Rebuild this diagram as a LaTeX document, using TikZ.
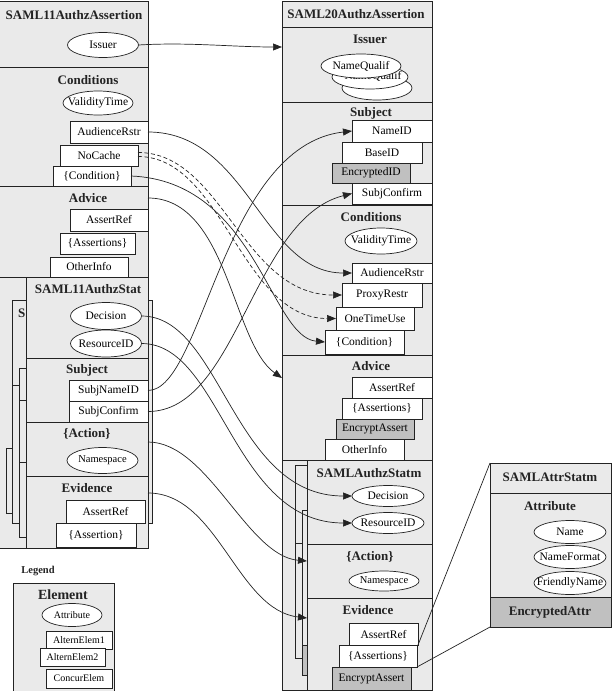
\documentclass[tikz,border=0pt]{standalone}
\usepackage{fontspec}
\setmainfont{Liberation Serif}
\usetikzlibrary{arrows.meta,shapes.geometric,calc}
\definecolor{secgray}{RGB}{234,234,234}
\definecolor{encgray}{RGB}{192,192,192}
\definecolor{ink}{RGB}{35,35,35}
\begin{document}
\begin{tikzpicture}[x=1pt,y=-1pt,
  sect/.style={draw=ink, line width=0.8pt, fill=secgray, anchor=north west, inner sep=0pt, outer sep=0pt},
  encsect/.style={sect, fill=encgray},
  elbox/.style={draw=ink, line width=0.7pt, fill=white, anchor=north west, inner sep=0pt, outer sep=0pt, font=\fontsize{11.5}{12}\selectfont},
  encbox/.style={elbox, fill=encgray},
  legbox/.style={elbox, font=\fontsize{10}{11}\selectfont},
  attr/.style={ellipse, draw=ink, line width=0.7pt, fill=white, inner sep=0pt, outer sep=0pt},
  attrtxt/.style={font=\fontsize{11.5}{12}\selectfont, inner sep=0pt},
  smalltxt/.style={font=\fontsize{10.5}{11}\selectfont, inner sep=0pt},
  ttl/.style={font=\fontsize{13}{14}\selectfont\bfseries, inner sep=0pt, text=ink},
  conn/.style={draw=ink, line width=0.7pt, -{Triangle[length=9pt,width=7pt]}},
  dconn/.style={conn, dash pattern=on 4pt off 2.5pt},
  frameline/.style={draw=ink, line width=0.8pt},
]
\useasboundingbox (0,0) rectangle (613,691);
\clip (0,0) rectangle (613,691);

% ================= LEFT COLUMN =================
\node[sect, minimum width=160pt, minimum height=547pt] (Lout) at (-12,1) {};
\node[sect, minimum width=160pt, minimum height=119pt] (Lcond) at (-12,67) {};
\node[sect, minimum width=160pt, minimum height=91pt] (Ladv) at (-12,186) {};
\node[ttl] (Ltitle) at (74,15) {SAML11AuthzAssertion};
\node[attr, minimum width=71pt, minimum height=25pt, label={[attrtxt]center:Issuer}] (Liss) at (103,45) {};

\node[ttl] (LcondT) at (88,80) {Conditions};
\node[attr, minimum width=70pt, minimum height=24pt, label={[attrtxt]center:ValidityTime}] (Lval) at (98,103) {};
\node[elbox, minimum width=78pt, minimum height=22pt] (Laud) at (70,121) {AudienceRstr};
\node[elbox, minimum width=78pt, minimum height=21pt] (Lnoc) at (60,145) {NoCache};
\node[elbox, minimum width=78pt, minimum height=20pt] (Lcnd) at (53,166) {\{Condition\}};

\node[ttl] (LadvT) at (88,198) {Advice};
\node[elbox, minimum width=78pt, minimum height=22pt] (Larf) at (70,209) {AssertRef};
\node[elbox, minimum width=75pt, minimum height=21pt] (Lass) at (60,233) {\{Assertions\}};
\node[elbox, minimum width=78pt, minimum height=20pt] (Loth) at (50,257) {OtherInfo};

% stacked statements behind
\node[sect, minimum width=140pt, minimum height=65pt] (LbgC) at (6,448) {};
\node[sect, minimum width=140pt, minimum height=223pt] (LbgA) at (12,300) {};
\draw[frameline] (12,385) -- (26,385);
\node[ttl, anchor=west] (LbgAT) at (18,313) {S};
\node[sect, minimum width=128pt, minimum height=169pt] (LbgB) at (19,368) {};
\draw[frameline] (19,400) -- (26,400);
\draw[frameline] (19,462) -- (26,462);

% SAML11AuthzStat
\node[sect, minimum width=122pt, minimum height=81pt] (Lstat) at (26,277) {};
\node[sect, minimum width=122pt, minimum height=64pt] (Lsubj) at (26,358) {};
\node[sect, minimum width=122pt, minimum height=54pt] (Lact) at (26,422) {};
\node[sect, minimum width=122pt, minimum height=72pt] (Lev) at (26,476) {};
\node[ttl] (LstatT) at (88,289) {SAML11AuthzStat};
\node[attr, minimum width=71pt, minimum height=27pt, label={[attrtxt]center:Decision}] (Ldec) at (106,316) {};
\node[attr, minimum width=71pt, minimum height=27pt, label={[attrtxt]center:ResourceID}] (Lres) at (106,343.5) {};
\node[ttl] (LsubjT) at (87,370) {Subject};
\node[elbox, minimum width=79pt, minimum height=21pt] (Lsni) at (69,380) {SubjNameID};
\node[elbox, minimum width=79pt, minimum height=21pt] (Lscf) at (69,401) {SubjConfirm};
\node[ttl] (LactT) at (87,434) {\{Action\}};
\node[attr, minimum width=71pt, minimum height=26pt, label={[smalltxt]center:Namespace}] (Lns) at (102.5,460.5) {};
\node[ttl] (LevT) at (87,488) {Evidence};
\node[elbox, minimum width=79pt, minimum height=23pt] (Learf) at (66,500) {AssertRef};
\node[elbox, minimum width=80pt, minimum height=24pt] (Leas) at (56,523) {\{Assertion\}};

% Legend
\node[font=\fontsize{10.5}{11}\selectfont\bfseries, inner sep=0pt, text=ink] (legT) at (38,571) {Legend};
\node[sect, minimum width=101pt, minimum height=120pt] (leg) at (13,583) {};
\node[font=\fontsize{14}{15}\selectfont\bfseries, inner sep=0pt, text=ink] (legE) at (63,595) {Element};
\node[attr, minimum width=60pt, minimum height=23pt, label={[font=\fontsize{10}{11}\selectfont, inner sep=0pt]center:Attribute}] (legA) at (72,615) {};
\node[legbox, minimum width=66pt, minimum height=18pt] (legA1) at (46,631) {AlternElem1};
\node[legbox, minimum width=65pt, minimum height=18pt] (legA2) at (40,648) {AlternElem2};
\node[legbox, minimum width=66pt, minimum height=19pt] (legC) at (46,669) {ConcurElem};

% ================= RIGHT COLUMN =================
\node[sect, minimum width=150pt, minimum height=689pt] (Rout) at (282,1) {};
\node[sect, minimum width=150pt, minimum height=26pt] (Rtop) at (282,1) {};
\node[ttl] (Rtitle) at (356,14) {SAML20AuthzAssertion};

\node[sect, minimum width=150pt, minimum height=75pt] (Riss) at (282,27) {};
\node[ttl] (RissT) at (370,39) {Issuer};
\node[attr, minimum width=70pt, minimum height=24pt] (Rnq3) at (377,88) {};
\node[attr, minimum width=76pt, minimum height=24pt, label={[attrtxt, xshift=3pt, yshift=1pt]center:NameQualif}] (Rnq2) at (370,77) {};
\node[attr, minimum width=80pt, minimum height=24pt, label={[attrtxt]center:NameQualif}] (Rnq1) at (361,66) {};

\node[sect, minimum width=150pt, minimum height=103pt] (Rsubj) at (282,102) {};
\node[ttl] (RsubjT) at (371,113) {Subject};
\node[elbox, minimum width=80pt, minimum height=22pt] (Rnid) at (352,120) {NameID};
\node[elbox, minimum width=80pt, minimum height=21pt] (Rbid) at (342,142) {BaseID};
\node[encbox, minimum width=78pt, minimum height=20pt] (Reid) at (332,163) {EncryptedID};
\node[elbox, minimum width=80pt, minimum height=21pt] (Rscf) at (352,183) {SubjConfirm};

\node[sect, minimum width=150pt, minimum height=150pt] (Rcond) at (282,205) {};
\node[ttl] (RcondT) at (371,217) {Conditions};
\node[attr, minimum width=72pt, minimum height=26pt, label={[attrtxt]center:ValidityTime}] (Rval) at (381,241) {};
\node[elbox, minimum width=80pt, minimum height=20pt] (Raud) at (352,263) {AudienceRstr};
\node[elbox, minimum width=80pt, minimum height=24pt] (Rprx) at (342,283) {ProxyRestr};
\node[elbox, minimum width=78pt, minimum height=23pt] (Rotu) at (336,307) {OneTimeUse};
\node[elbox, minimum width=79pt, minimum height=24pt] (Rcnd) at (325,330) {\{Condition\}};

\node[sect, minimum width=150pt, minimum height=105pt] (Radv) at (282,355) {};
\node[ttl] (RadvT) at (371,366) {Advice};
\node[elbox, minimum width=80pt, minimum height=21pt] (Rarf) at (352,377) {AssertRef};
\node[elbox, minimum width=80pt, minimum height=21pt] (Rass) at (342,398) {\{Assertions\}};
\node[encbox, minimum width=78pt, minimum height=20pt] (Renc) at (336,419) {EncryptAssert};
\node[elbox, minimum width=79pt, minimum height=21pt] (Roth) at (325,439) {OtherInfo};

% stacked statements behind
\node[sect, minimum width=130pt, minimum height=193pt] (RbgA) at (295,465) {};
\draw[frameline] (295,543) -- (307,543);
\node[sect, minimum width=125pt, minimum height=165pt] (RbgB) at (302,510) {};
\node[encsect, minimum width=125pt, minimum height=30pt] (RbgBe) at (302,645) {};

% SAMLAuthzStatm
\node[sect, minimum width=125pt, minimum height=84pt] (Rstat) at (307,460) {};
\node[sect, minimum width=125pt, minimum height=54pt] (Ract) at (307,544) {};
\node[sect, minimum width=125pt, minimum height=92pt] (Rev) at (307,598) {};
\node[ttl] (RstatT) at (369,473) {SAMLAuthzStatm};
\node[attr, minimum width=72pt, minimum height=21pt, label={[attrtxt]center:Decision}] (Rdec) at (388,496) {};
\node[attr, minimum width=72pt, minimum height=21pt, label={[attrtxt]center:ResourceID}] (Rres) at (388,523) {};
\node[ttl] (RactT) at (370,557) {\{Action\}};
\node[attr, minimum width=70pt, minimum height=20pt, label={[smalltxt]center:Namespace}] (Rns) at (384,581) {};
\node[ttl] (RevT) at (368,610) {Evidence};
\node[elbox, minimum width=69pt, minimum height=22pt] (Rearf) at (349,623) {AssertRef};
\node[elbox, minimum width=78pt, minimum height=22pt] (Reas) at (339,645) {\{Assertions\}};
\node[encbox, minimum width=79pt, minimum height=23pt] (Reenc) at (332,667) {EncryptAssert};

% ================= SAMLAttrStatm =================
\node[sect, minimum width=121pt, minimum height=30pt] (Atop) at (490,463) {};
\node[sect, minimum width=121pt, minimum height=104pt] (Aattr) at (490,493) {};
\node[encsect, minimum width=121pt, minimum height=30pt] (Aenc) at (490,597) {};
\node[ttl] (AtopT) at (550,477) {SAMLAttrStatm};
\node[ttl] (AattrT) at (550,506) {Attribute};
\node[ttl] (AencT) at (550,612) {EncryptedAttr};
\node[attr, minimum width=72pt, minimum height=23pt, label={[attrtxt]center:Name}] (Aname) at (570,532) {};
\node[attr, minimum width=72pt, minimum height=23pt, label={[attrtxt]center:NameFormat}] (Anf) at (570,557) {};
\node[attr, minimum width=72pt, minimum height=23pt, label={[attrtxt]center:FriendlyName}] (Afn) at (570,583) {};

% ================= CONNECTORS =================
\draw[conn] (Liss.east) .. controls +(50,-3) and +(-50,0) .. ($(Riss.north west)+(0,20)$);
\draw[conn] (Laud.east) .. controls +(100,0) and +(-90,0) .. (Raud.west);
\draw[dconn] ($(Lnoc.east)+(0,-3)$) .. controls +(85,0) and +(-100,0) .. (Rprx.west);
\draw[dconn] ($(Lnoc.east)+(0,1)$) .. controls +(85,0) and +(-95,0) .. (Rotu.west);
\draw[conn] (Lcnd.east) .. controls +(125,5) and +(-55,-5) .. (Rcnd.west);
\draw[conn] ($(Ladv.north east)+(0,12)$) .. controls +(80,0) and +(-50,-35) .. ($(Radv.north west)+(0,23)$);
\draw[conn] (Ldec.east) .. controls +(80,0) and +(-120,0) .. (Rdec.west);
\draw[conn] (Lres.east) .. controls +(80,0) and +(-120,0) .. (Rres.west);
\draw[conn] (Lsni.east) .. controls +(55,0) and +(-130,15) .. (Rnid.west);
\draw[conn] (Lscf.east) .. controls +(90,0) and +(-100,25) .. (Rscf.west);
\draw[conn] ($(Lact.north east)+(0,20)$) .. controls +(60,0) and +(-60,-5) .. ($(Ract.north west)+(0,17)$);
\draw[conn] ($(Lev.north east)+(0,17)$) .. controls +(70,0) and +(-70,-8) .. ($(Rev.north west)+(0,20)$);
\draw[draw=ink, line width=0.7pt] (Rearf.south east) -- (Atop.north west);
\draw[draw=ink, line width=0.7pt] (Reas.south east) -- (Aenc.south west);
\end{tikzpicture}
\end{document}
